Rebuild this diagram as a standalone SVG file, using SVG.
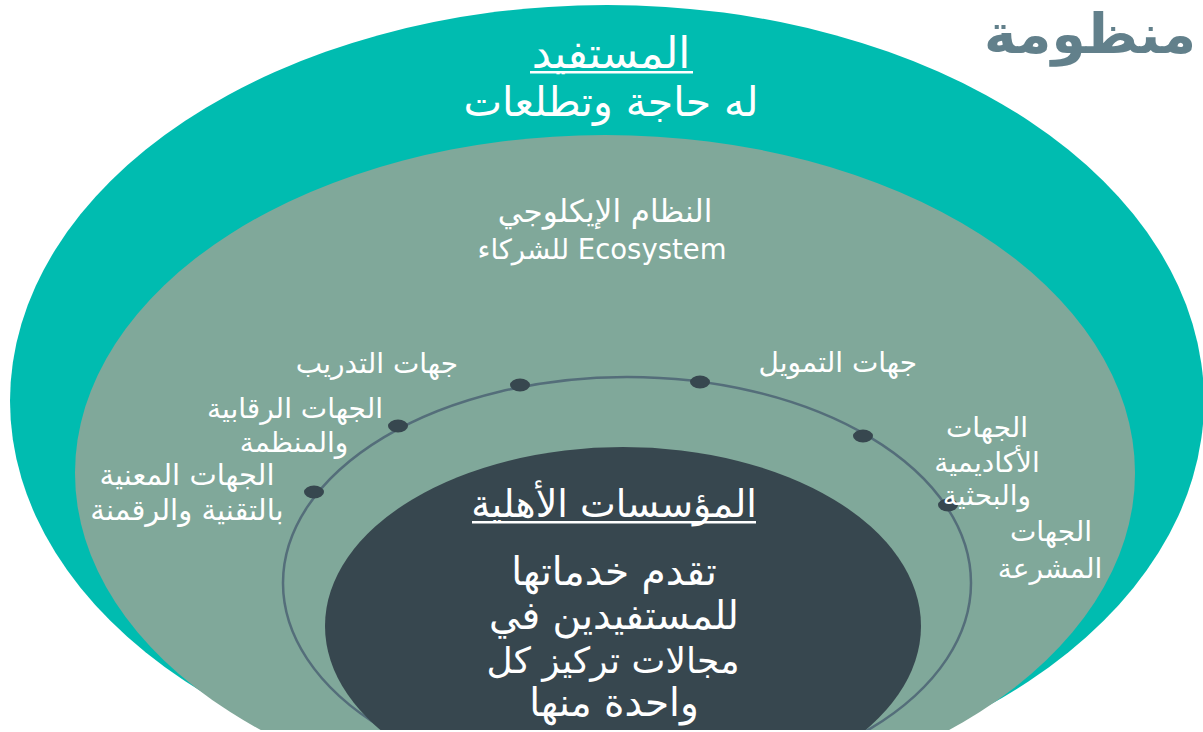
<svg xmlns="http://www.w3.org/2000/svg" width="1203" height="732" viewBox="0 0 1203 732">
<style>
text{font-family:"DejaVu Sans","Noto Sans",sans-serif;fill:#fff;direction:rtl}
.c{text-anchor:middle}
.lb{font-size:28px}
.dot{fill:#37474F}
</style>
<rect width="1203" height="732" fill="#fff"/>
<g id="beneficiary">
<ellipse cx="607" cy="401" rx="597" ry="396" fill="#00BCB0"/>
<text class="c" x="611" y="68" font-size="43">المستفيد</text>
<rect x="530" y="71" width="163" height="2.5" fill="#fff"/>
<text class="c" x="611" y="116" font-size="41">له حاجة وتطلعات</text>
</g>
<g id="ecosystem">
<ellipse cx="605" cy="473" rx="530" ry="338" fill="#80A89A"/>
<text class="c" x="605" y="222" font-size="31">النظام الإيكلوجي</text>
<text class="c" x="602" y="259" font-size="27.5">Ecosystem للشركاء</text>
</g>
<g id="orbit">
<ellipse cx="627" cy="583" rx="344" ry="206" fill="none" stroke="#546E7A" stroke-width="2.5"/>
</g>
<g id="core">
<ellipse cx="623" cy="626" rx="298" ry="179" fill="#37474F"/>
<text class="c" x="614" y="517" font-size="38">المؤسسات الأهلية</text>
<rect x="472" y="521" width="284" height="2.5" fill="#fff"/>
<text class="c" x="614" y="585" font-size="39">تقدم خدماتها</text>
<text class="c" x="614" y="629" font-size="39">للمستفيدين في</text>
<text class="c" x="613" y="673" font-size="36">مجالات تركيز كل</text>
<text class="c" x="614" y="716" font-size="39">واحدة منها</text>
</g>
<g id="connectors">
<ellipse class="dot" cx="520" cy="385" rx="10" ry="6.5"/>
<ellipse class="dot" cx="700" cy="382" rx="10" ry="6.5"/>
<ellipse class="dot" cx="863" cy="436" rx="10" ry="6.5"/>
<ellipse class="dot" cx="948" cy="505" rx="10" ry="6.5"/>
<ellipse class="dot" cx="398" cy="426" rx="10" ry="6.5"/>
<ellipse class="dot" cx="314" cy="492" rx="10" ry="6.5"/>
</g>
<g id="training"><text class="lb" x="458" y="373">جهات التدريب</text></g>
<g id="regulators"><text class="c lb" x="295" y="418">الجهات الرقابية</text><text class="c lb" x="294" y="452">والمنظمة</text></g>
<g id="tech"><text class="c" x="187" y="485" font-size="29">الجهات المعنية</text><text class="c" x="187" y="520" font-size="29">بالتقنية والرقمنة</text></g>
<g id="funding"><text class="lb" x="917" y="372">جهات التمويل</text></g>
<g id="academic"><text class="c lb" x="987" y="437">الجهات</text><text class="c lb" x="987" y="472">الأكاديمية</text><text class="c lb" x="987" y="505">والبحثية</text></g>
<g id="legislators"><text class="c lb" x="1051" y="541">الجهات</text><text class="c lb" x="1050" y="578">المشرعة</text></g>
<rect x="0" y="730" width="1203" height="2" fill="#fff"/>
<g id="title"><text x="1196" y="53" font-size="55" font-weight="bold" style="fill:#62808B">منظومة</text></g>
</svg>
